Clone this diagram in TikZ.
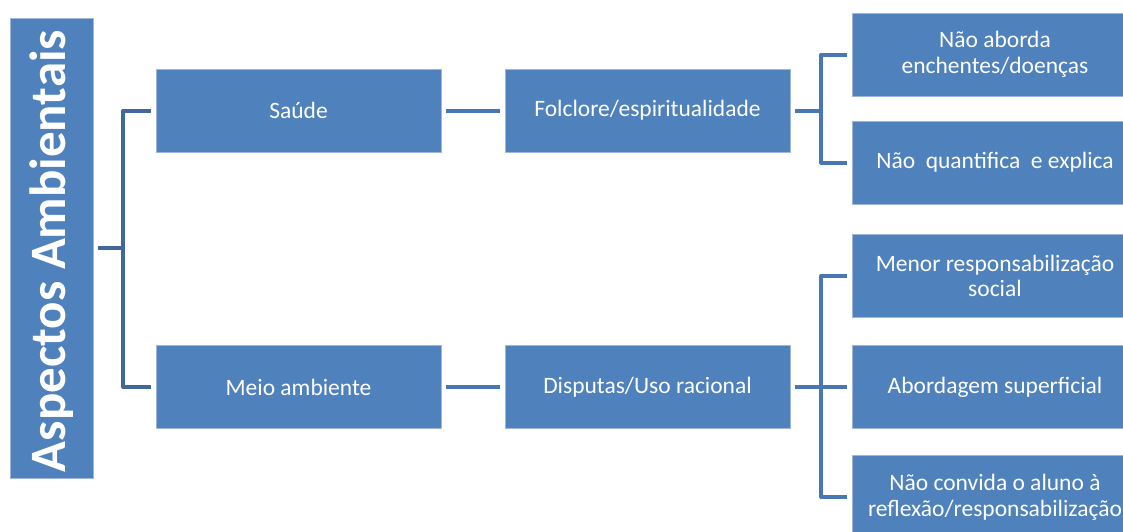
\documentclass[tikz,border=0pt]{standalone}
\usepackage{fontspec}
\setmainfont{Carlito}
\usepackage{graphicx}
\usetikzlibrary{calc}
\definecolor{boxblue}{HTML}{4F81BD}
\definecolor{boxedge}{HTML}{9DB6D9}
\definecolor{linedark}{HTML}{41679B}
\definecolor{linemid}{HTML}{4877B3}
\tikzset{
  box/.style={rectangle, fill=boxblue, draw=boxedge, line width=0.8pt,
    minimum width=285, minimum height=83, inner sep=0pt, text=white,
    font=\fontsize{23.5}{25.8}\selectfont, align=center},
  titlebox/.style={rectangle, fill=boxblue, draw=boxedge, line width=0.8pt,
    minimum width=83, minimum height=460, inner sep=0pt, text=white,
    font=\fontsize{51}{60}\selectfont\bfseries},
  conn/.style={line width=4pt, linemid, line join=round},
  conndark/.style={line width=4pt, linedark, line join=round}
}
\begin{document}
\begin{tikzpicture}[x=1pt,y=-1pt]
\path[use as bounding box, clip] (0,0) rectangle (1123,531);
\fill[white] (0,0) rectangle (1123,531);
\node[titlebox] (title) at (51.5,248) {\rotatebox{90}{Aspectos Ambientais\hspace{6pt}}};
\node[box] (saude) at (298.5,110.5) {Saúde};
\node[box] (meio) at (298.5,387) {Meio ambiente};
\node[box] (folc) at (647.5,110.5) {Folclore/espiritualidade};
\node[box] (disp) at (647.5,387) {Disputas/Uso racional};
\node[box] (r1) at (995,54.5) {Não aborda\\enchentes/doenças};
\node[box] (r2) at (995,162.5) {Não\ \ quantifica\ \ e explica};
\node[box] (r3) at (995,276) {Menor responsabilização\\social};
\node[box] (r4) at (995,387) {Abordagem superficial};
\node[box] (r5) at (995,497) {Não convida o aluno à\\reflexão/responsabilização};
% left connector
\coordinate (lj) at ($(title.east)+(30,0)$);
\draw[conndark] ($(title.east)+(5,0)$) -- (lj);
\draw[conndark] ([xshift=-5pt]saude.west) -| (lj) |- ([xshift=-5pt]meio.west);
% middle connectors
\draw[conn] ([xshift=5pt]saude.east) -- ([xshift=-5pt]folc.west);
\draw[conn] ([xshift=5pt]meio.east) -- ([xshift=-5pt]disp.west);
% right top connector
\coordinate (tj) at ($(folc.east)+(31,0)$);
\draw[conn] ([xshift=5pt]folc.east) -- (tj);
\draw[conn] ([xshift=-5pt]r1.west) -| (tj) |- ([xshift=-5pt]r2.west);
% right bottom connector
\coordinate (bj) at ($(disp.east)+(31,0)$);
\draw[conn] ([xshift=5pt]disp.east) -- (bj);
\draw[conn] ([xshift=-5pt]r3.west) -| (bj) |- ([xshift=-5pt]r5.west);
\draw[conn] (bj) -- ([xshift=-5pt]r4.west);
\end{tikzpicture}
\end{document}
